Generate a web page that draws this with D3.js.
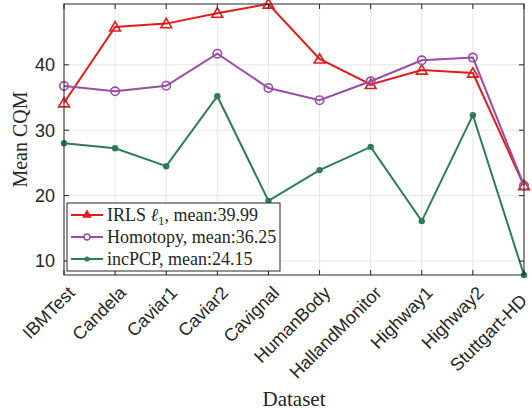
<!DOCTYPE html>
<html>
<head>
<meta charset="utf-8">
<script src="https://cdn.jsdelivr.net/npm/d3@7"></script>
<style>
  body { margin: 0; background: #fff; }
</style>
</head>
<body>
<div id="chart"></div>
<script>
const datasets = ["IBMTest", "Candela", "Caviar1", "Caviar2", "Cavignal", "HumanBody",
  "HallandMonitor", "Highway1", "Highway2", "Stuttgart-HD"];
const irls     = [34.2, 45.8, 46.3, 47.9, 49.3, 40.9, 37.0, 39.2, 38.75, 21.55];
const homotopy = [36.77, 35.95, 36.8, 41.7, 36.46, 34.58, 37.48, 40.69, 41.1, 21.55];
const incpcp   = [28.0, 27.25, 24.5, 35.2, 19.2, 23.9, 27.45, 16.1, 32.3, 7.86];
const yTicks = [10, 20, 30, 40];

const series = [
  {name: "IRLS", mean: "39.99", values: irls, color: "#e41a1c", marker: "triangle"},
  {name: "Homotopy", mean: "36.25", values: homotopy, color: "#984ea3", marker: "circle"},
  {name: "incPCP", mean: "24.15", values: incpcp, color: "#2e7d52", marker: "dot"},
];

const width = 532, height = 415;
const M = {top: 4, right: 8, bottom: 140, left: 64};
const innerW = width - M.left - M.right;
const innerH = height - M.top - M.bottom;

const x = d3.scalePoint().domain(datasets).range([0, innerW]);
const y = d3.scaleLinear().domain([7.86, 49.3]).range([innerH, 0]);

const sans = "'Liberation Sans', Arial, sans-serif";
const serif = "'Liberation Serif', 'DejaVu Serif', serif";
const axisCol = "#262626";

const svg = d3.select("#chart").append("svg")
  .attr("width", width).attr("height", height);

const g = svg.append("g").attr("transform", `translate(${M.left},${M.top})`);

// grid
g.selectAll("line.gx").data(datasets).join("line")
  .attr("x1", d => x(d)).attr("x2", d => x(d)).attr("y1", 0).attr("y2", innerH)
  .attr("stroke", "#e6e6e6").attr("stroke-width", 1);
g.selectAll("line.gy").data(yTicks).join("line")
  .attr("x1", 0).attr("x2", innerW).attr("y1", d => y(d)).attr("y2", d => y(d))
  .attr("stroke", "#e6e6e6").attr("stroke-width", 1);

// lines + markers
const line = d3.line().x((d, i) => x(datasets[i])).y(d => y(d));
const tri = d3.symbol().type(d3.symbolTriangle).size(50);

function drawMarker(sel, s, cx, cy, r) {
  if (s.marker === "triangle") {
    sel.append("path").attr("transform", `translate(${cx},${cy + 1})`)
      .attr("d", tri()).attr("fill", "none").attr("stroke", s.color).attr("stroke-width", 1.6);
  } else if (s.marker === "circle") {
    sel.append("circle").attr("cx", cx).attr("cy", cy).attr("r", r)
      .attr("fill", "none").attr("stroke", s.color).attr("stroke-width", 1.6);
  } else {
    sel.append("circle").attr("cx", cx).attr("cy", cy).attr("r", 3.2).attr("fill", s.color);
  }
}

series.forEach(s => {
  g.append("path").datum(s.values).attr("d", line)
    .attr("fill", "none").attr("stroke", s.color).attr("stroke-width", 2);
  s.values.forEach((v, i) => drawMarker(g, s, x(datasets[i]), y(v), 4.2));
});

// axes box
g.append("rect").attr("width", innerW).attr("height", innerH)
  .attr("fill", "none").attr("stroke", axisCol).attr("stroke-width", 1);

// ticks (inward, both sides)
datasets.forEach(d => {
  g.append("line").attr("x1", x(d)).attr("x2", x(d)).attr("y1", innerH).attr("y2", innerH - 5).attr("stroke", axisCol);
  g.append("line").attr("x1", x(d)).attr("x2", x(d)).attr("y1", 0).attr("y2", 5).attr("stroke", axisCol);
});
yTicks.forEach(t => {
  g.append("line").attr("x1", 0).attr("x2", 5).attr("y1", y(t)).attr("y2", y(t)).attr("stroke", axisCol);
  g.append("line").attr("x1", innerW).attr("x2", innerW - 5).attr("y1", y(t)).attr("y2", y(t)).attr("stroke", axisCol);
});

// tick labels
g.selectAll("text.yt").data(yTicks).join("text")
  .attr("x", -9).attr("y", d => y(d)).attr("dy", "0.36em")
  .attr("text-anchor", "end").attr("font-family", sans).attr("font-size", 18)
  .attr("fill", axisCol).text(d => d);

g.selectAll("text.xt").data(datasets).join("text")
  .attr("transform", d => `translate(${x(d) + 12},${innerH + 19}) rotate(-45)`)
  .attr("text-anchor", "end")
  .attr("font-family", sans).attr("font-size", 18)
  .attr("fill", axisCol).text(d => d)
  .each(function(d) {
    // keep rotated label inside the window
    const r = this.getBoundingClientRect();
    const over = r.right - (width - 1);
    if (over > 0) {
      d3.select(this).attr("transform",
        `translate(${x(d) + 12 - over},${innerH + 19 + over}) rotate(-45)`);
    }
  });

// axis labels
svg.append("text").attr("transform", `translate(27,${M.top + innerH / 2}) rotate(-90)`)
  .attr("text-anchor", "middle").attr("font-family", serif).attr("font-size", 20)
  .attr("fill", axisCol).text("Mean CQM");
svg.append("text").attr("x", M.left + innerW / 2).attr("y", 406)
  .attr("text-anchor", "middle").attr("font-family", serif).attr("font-size", 21)
  .attr("fill", axisCol).text("Dataset");

// legend
const lg = svg.append("g").attr("transform", "translate(67,203)");
lg.append("rect").attr("width", 213).attr("height", 68)
  .attr("fill", "#fff").attr("stroke", axisCol).attr("stroke-width", 1);
series.forEach((s, i) => {
  const cy = 12 + i * 22;
  lg.append("line").attr("x1", 4).attr("x2", 36).attr("y1", cy).attr("y2", cy)
    .attr("stroke", s.color).attr("stroke-width", 2);
  if (s.marker === "triangle") {
    lg.append("path").attr("transform", `translate(20,${cy})`)
      .attr("d", d3.symbol().type(d3.symbolTriangle).size(40)()).attr("fill", s.color);
  } else if (s.marker === "circle") {
    lg.append("circle").attr("cx", 20).attr("cy", cy).attr("r", 3)
      .attr("fill", "#fff").attr("stroke", s.color).attr("stroke-width", 1.5);
  } else {
    lg.append("circle").attr("cx", 20).attr("cy", cy).attr("r", 2.6).attr("fill", s.color);
  }
  const t = lg.append("text").attr("x", 40).attr("y", cy).attr("dy", "0.35em")
    .attr("font-family", serif).attr("font-size", 18).attr("fill", axisCol);
  if (s.name === "IRLS") {
    t.append("tspan").text("IRLS ");
    t.append("tspan").attr("font-style", "italic").text("ℓ");
    t.append("tspan").attr("font-size", 13).attr("dy", 4).text("1");
    t.append("tspan").attr("dy", -4).text(`, mean:${s.mean}`);
  } else {
    t.text(`${s.name}, mean:${s.mean}`);
  }
});
</script>
</body>
</html>
